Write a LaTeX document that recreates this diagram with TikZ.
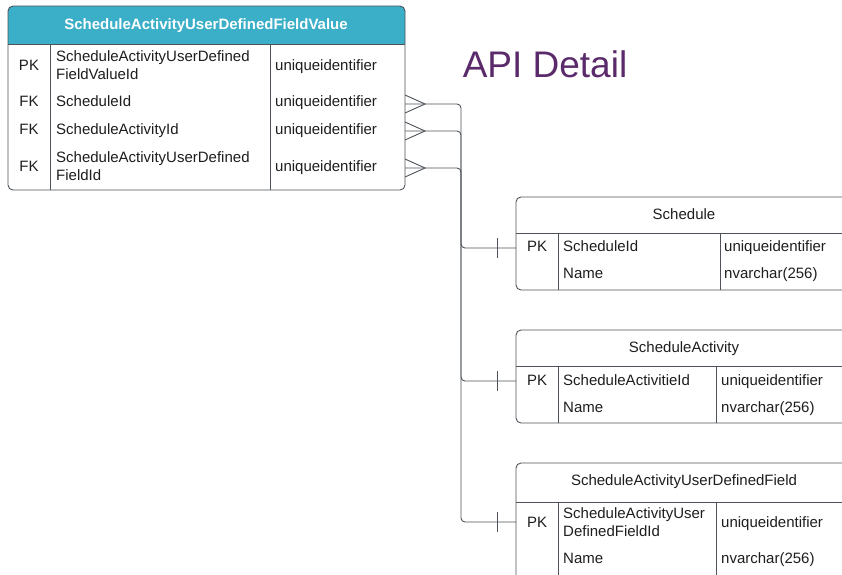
\documentclass[tikz,border=0pt]{standalone}
\usepackage{fontspec}
\setmainfont{Liberation Sans}
\begin{document}
\begin{tikzpicture}[x=1pt,y=-1pt,
  tbl/.style={draw=linec, line width=0.9pt, rounded corners=5pt},
  sep/.style={draw=linec, line width=0.9pt},
  txt/.style={anchor=base west, inner sep=0pt, text=txtc, font=\fontsize{15}{18}\selectfont, yshift=-5.5pt},
  mtxt/.style={anchor=west, inner sep=0pt, text=txtc, font=\fontsize{15}{18}\selectfont, align=left},
  ctxt/.style={anchor=base, inner sep=0pt, text=txtc, font=\fontsize{15}{18}\selectfont, yshift=-5.5pt},
  conn/.style={draw=linec, line width=0.9pt, rounded corners=4pt},
  tick/.style={draw=linec, line width=0.9pt}]
\definecolor{linec}{HTML}{4E535A}
\definecolor{txtc}{HTML}{1E1E1E}
\definecolor{headc}{HTML}{3AAFC7}
\definecolor{titlec}{HTML}{5B2A6A}
\useasboundingbox (0,0) rectangle (842,574);
\clip (0,0) rectangle (842,574);
\fill[white] (0,0) rectangle (842,574);

% title
\node[anchor=center, inner sep=0pt, text=titlec, font=\fontsize{37}{40}\selectfont] (title) at (545,64) {API Detail};

% ===== top table =====
\fill[white, rounded corners=5pt] (8,6) rectangle (405,190);
\fill[headc] (8,44) [rounded corners=5pt] -- (8,6) -- (405,6) [sharp corners] -- (405,44) -- cycle;
\draw[tbl] (8,6) rectangle (405,190);
\draw[sep] (8,44) -- (405,44);
\draw[sep] (50,44) -- (50,190);
\draw[sep] (270,44) -- (270,190);
\node[ctxt, text=white, font=\bfseries\fontsize{15}{18}\selectfont] (th) at (206,24) {ScheduleActivityUserDefinedFieldValue};
\node[ctxt] (t1k) at (29,65) {PK};
\node[mtxt] (t1n) at (56,65) {ScheduleActivityUserDefined\\FieldValueId};
\node[txt] (t1t) at (275,65) {uniqueidentifier};
\node[ctxt] (t2k) at (29,101) {FK};
\node[txt] (t2n) at (56,101) {ScheduleId};
\node[txt] (t2t) at (275,101) {uniqueidentifier};
\node[ctxt] (t3k) at (29,129) {FK};
\node[txt] (t3n) at (56,129) {ScheduleActivityId};
\node[txt] (t3t) at (275,129) {uniqueidentifier};
\node[ctxt] (t4k) at (29,166) {FK};
\node[mtxt] (t4n) at (56,166) {ScheduleActivityUserDefined\\FieldId};
\node[txt] (t4t) at (275,166) {uniqueidentifier};

% ===== Schedule =====
\fill[white, rounded corners=5pt] (516,197) rectangle (860,290);
\draw[tbl] (516,197) rectangle (860,290);
\draw[sep] (516,233) -- (860,233);
\draw[sep] (558,233) -- (558,290);
\draw[sep] (720,233) -- (720,290);
\node[ctxt] (sh) at (684,214) {Schedule};
\node[ctxt] (s1k) at (537,246) {PK};
\node[txt] (s1n) at (563,246) {ScheduleId};
\node[txt] (s1t) at (724,246) {uniqueidentifier};
\node[txt] (s2n) at (563,273) {Name};
\node[txt] (s2t) at (724,273) {nvarchar(256)};

% ===== ScheduleActivity =====
\fill[white, rounded corners=5pt] (516,330) rectangle (860,423);
\draw[tbl] (516,330) rectangle (860,423);
\draw[sep] (516,366) -- (860,366);
\draw[sep] (558,366) -- (558,423);
\draw[sep] (716,366) -- (716,423);
\node[ctxt] (ah) at (684,347) {ScheduleActivity};
\node[ctxt] (a1k) at (537,380) {PK};
\node[txt] (a1n) at (563,380) {ScheduleActivitieId};
\node[txt] (a1t) at (721,380) {uniqueidentifier};
\node[txt] (a2n) at (563,407) {Name};
\node[txt] (a2t) at (721,407) {nvarchar(256)};

% ===== ScheduleActivityUserDefinedField =====
\fill[white, rounded corners=5pt] (516,463) rectangle (860,600);
\draw[tbl] (516,463) rectangle (860,600);
\draw[sep] (516,502) -- (860,502);
\draw[sep] (558,502) -- (558,600);
\draw[sep] (716,502) -- (716,600);
\node[ctxt] (uh) at (684,480) {ScheduleActivityUserDefinedField};
\node[ctxt] (u1k) at (537,522) {PK};
\node[mtxt] (u1n) at (563,522) {ScheduleActivityUser\\DefinedFieldId};
\node[txt] (u1t) at (721,522) {uniqueidentifier};
\node[txt] (u2n) at (563,558) {Name};
\node[txt] (u2t) at (721,558) {nvarchar(256)};

% ===== connectors =====
\coordinate (e1) at (405,104); \coordinate (f1) at (425,104); \coordinate (v1) at (461,104);
\coordinate (e2) at (405,131); \coordinate (f2) at (425,131); \coordinate (v2) at (461,131);
\coordinate (e3) at (405,168); \coordinate (f3) at (425,168); \coordinate (v3) at (461,168);
\coordinate (sE) at (516,248);
\coordinate (aE) at (516,381);
\coordinate (uE) at (516,522);

\draw[conn] (e1) -- (v1) |- (sE);
\draw[conn] (e2) -- (v2) |- (aE);
\draw[conn] (e3) -- (v3) |- (uE);
\draw[tick] (405,95) -- (f1) -- (405,113);
\draw[tick] (405,122) -- (f2) -- (405,140);
\draw[tick] (405,159) -- (f3) -- (405,177);
\draw[tick] (497,238) -- (497,258);
\draw[tick] (497,371) -- (497,391);
\draw[tick] (497,512) -- (497,532);
\end{tikzpicture}
\end{document}
